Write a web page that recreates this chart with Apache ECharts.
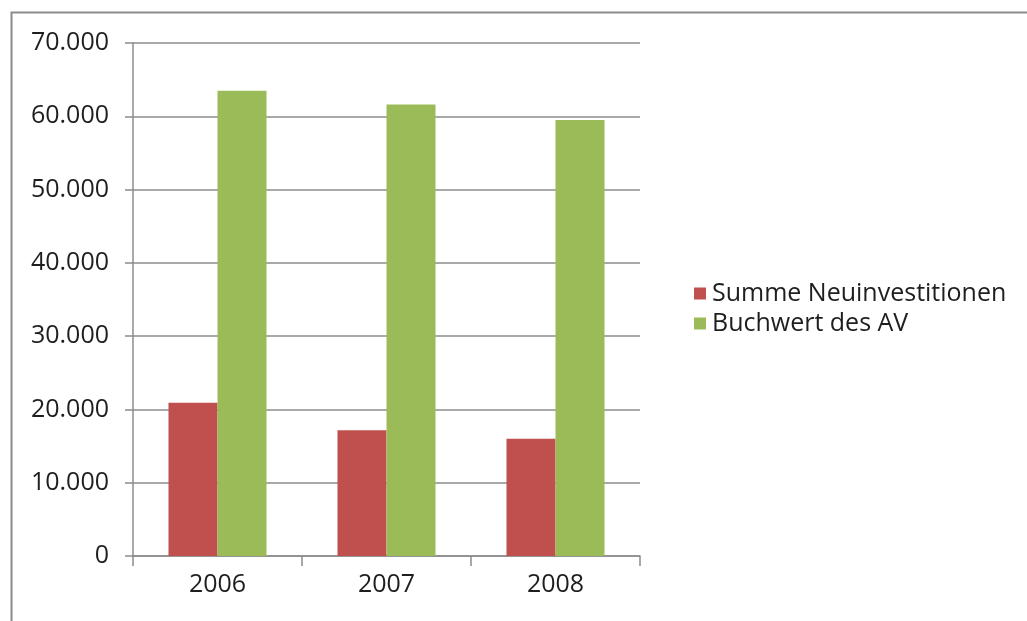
<!DOCTYPE html>
<html>
<head>
<meta charset="utf-8">
<title>Neuinvestitionen und Buchwert</title>
<script src="https://cdn.jsdelivr.net/npm/echarts@6/dist/echarts.min.js"></script>
<style>
  html, body { margin: 0; padding: 0; background: #ffffff; }
  #chart { width: 1027px; height: 621px; }
</style>
</head>
<body>
<div id="chart"></div>
<script>
// Years on the category axis
const years = ['2006', '2007', '2008'];
// Series names
const seriesNames = ['Summe Neuinvestitionen', 'Buchwert des AV'];
// Values per year
const neuinvestitionen = [20900, 17150, 16000];
const buchwertAV = [63500, 61600, 59500];
// Value axis range
const yMin = 0;
const yMax = 70000;
const yStep = 10000;

// German thousands separator: 70000 -> "70.000"
function formatDE(v) {
  return String(Math.round(v)).replace(/\B(?=(\d{3})+(?!\d))/g, '.');
}

const font = '"Open Sans", "DejaVu Sans", sans-serif';
const fontSize = 25;
const textColor = '#1e1e1e';
const lineColor = '#8c8c8c';

const chart = echarts.init(document.getElementById('chart'), null, { renderer: 'canvas' });
chart.setOption({
  backgroundColor: '#ffffff',
  animation: false,
  textStyle: { fontFamily: font },
  graphic: [{
    type: 'rect',
    left: 9, top: 10,
    shape: { x: 0, y: 0, width: 1040, height: 640 },
    style: { fill: 'none', stroke: lineColor, lineWidth: 2 },
    silent: true
  }],
  grid: { left: 133, right: 387, top: 43, bottom: 65, containLabel: false },
  legend: {
    orient: 'vertical',
    left: 689,
    top: 276,
    itemWidth: 12,
    itemHeight: 12,
    itemGap: 5,
    icon: 'rect',
    data: seriesNames,
    textStyle: { fontFamily: font, fontSize: fontSize, color: textColor, padding: [0, 0, 0, 1] }
  },
  xAxis: {
    type: 'category',
    data: years,
    axisLine: { show: true, lineStyle: { color: lineColor, width: 1.5 } },
    axisTick: { show: true, length: 10, lineStyle: { color: lineColor, width: 1.5 } },
    axisLabel: { color: textColor, fontSize: fontSize, fontFamily: font, margin: 16 }
  },
  yAxis: {
    type: 'value',
    min: yMin,
    max: yMax,
    interval: yStep,
    axisLine: { show: true, lineStyle: { color: lineColor, width: 1.5 } },
    axisTick: { show: true, length: 8, lineStyle: { color: lineColor, width: 1.5 } },
    axisLabel: { color: textColor, fontSize: fontSize, fontFamily: font, margin: 24, formatter: formatDE },
    splitLine: { show: true, lineStyle: { color: lineColor, width: 1.5 } }
  },
  series: [
    {
      name: seriesNames[0],
      type: 'bar',
      data: neuinvestitionen,
      barGap: '0%',
      barCategoryGap: '42%',
      itemStyle: { color: '#c0504d' }
    },
    {
      name: seriesNames[1],
      type: 'bar',
      data: buchwertAV,
      barGap: '0%',
      barCategoryGap: '42%',
      itemStyle: { color: '#9bbb59' }
    }
  ]
});
</script>
</body>
</html>
